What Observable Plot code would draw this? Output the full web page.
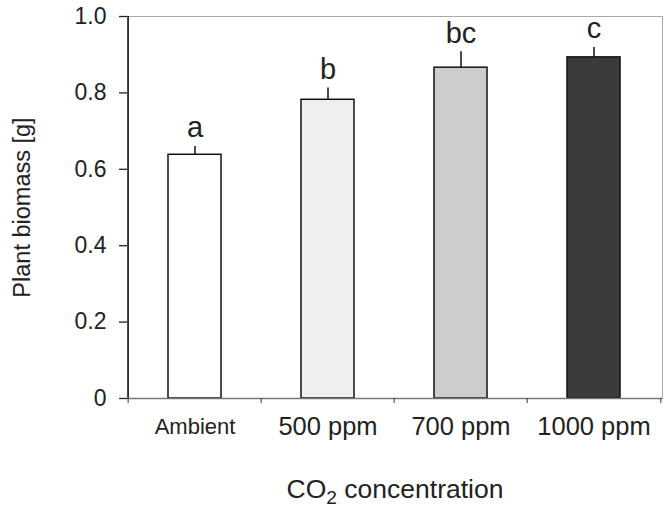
<!DOCTYPE html>
<html>
<head>
<meta charset="utf-8">
<script src="https://cdn.jsdelivr.net/npm/d3@7"></script>
<script src="https://cdn.jsdelivr.net/npm/@observablehq/plot@0.6"></script>
<style>
  body { margin: 0; background: #fff; }
  svg { font-family: "Liberation Sans", Arial, sans-serif; }
</style>
</head>
<body>
<div id="chart"></div>
<script>
const categories = ["Ambient", "500 ppm", "700 ppm", "1000 ppm"];
const means = [0.638, 0.782, 0.866, 0.893];
const errors = [0.022, 0.031, 0.042, 0.026];
const letters = ["a", "b", "bc", "c"];
const fills = ["#ffffff", "#efefef", "#cdcdcd", "#3b3b3b"];
const yTicks = [0, 0.2, 0.4, 0.6, 0.8, 1.0];
const yTickLabels = ["0", "0.2", "0.4", "0.6", "0.8", "1.0"];
const xTitle = ["CO", "2", " concentration"];
const yTitle = "Plant biomass [g]";

const data = categories.map((c, i) => ({cat: c, mean: means[i], se: errors[i], letter: letters[i], fill: fills[i]}));

const W = 668, H = 510;
const mL = 127, mR = 6, mT = 16, mB = 112;
const step = (W - mL - mR) / categories.length;
const half = step / 2;
const barW = step * 0.4;
const capW = 10;

const chart = Plot.plot({
  width: W,
  height: H,
  marginLeft: mL,
  marginRight: mR,
  marginTop: mT,
  marginBottom: mB,
  style: {fontFamily: "'Liberation Sans', Arial, sans-serif", color: "#222", background: "#fff"},
  x: {domain: categories, paddingInner: 0.6, paddingOuter: 0.3, align: 0.5},
  y: {domain: [0, 1], ticks: yTicks},
  marks: [
    Plot.frame({stroke: "#aaa", strokeWidth: 1}),
    Plot.barY(data, {x: "cat", y: "mean", fill: d => d.fill, stroke: "#111", strokeWidth: 1.5}),
    Plot.ruleX(data, {x: "cat", y1: "mean", y2: d => d.mean + d.se, stroke: "#111", strokeWidth: 1.5}),
    Plot.ruleY(data, {x: "cat", y: d => d.mean + d.se, stroke: "#111", strokeWidth: 1.5,
      insetLeft: (barW - capW) / 2, insetRight: (barW - capW) / 2}),
    Plot.text(data, {x: "cat", y: d => d.mean + d.se, text: "letter", dy: -9, lineAnchor: "bottom", fontSize: 29, fill: "#222"}),
    Plot.axisY({ticks: yTicks, tickFormat: (d, i) => yTickLabels[i], tickSize: 8, tickPadding: 13, fontSize: 23, strokeWidth: 1.3,
      label: null}),
    Plot.text([yTitle], {frameAnchor: "left", textAnchor: "middle", dx: -105, rotate: -90, fontSize: 23.5, fill: "#222"}),
    Plot.ruleX([categories[0]], {x: d => d, dx: -half, stroke: "#111", strokeWidth: 1.5}),
    Plot.ruleY([0], {stroke: "#777", strokeWidth: 1.5}),
    Plot.axisX({tickSize: 5, text: null, dx: -half, stroke: "#333", label: null}),
    Plot.axisX({ticks: [categories[categories.length - 1]], tickSize: 5, text: null, dx: half, stroke: "#333", label: null}),
    Plot.text(data, {x: "cat", text: "cat", frameAnchor: "bottom", dy: 28, lineAnchor: "middle",
      fontSize: d => d.cat === "Ambient" ? 22 : 25.5, fill: "#222"}),
    Plot.text([xTitle.join("")], {frameAnchor: "bottom", dy: 91, lineAnchor: "middle", fontSize: 26.5, fill: "#222",
      render(index, scales, values, dimensions, context, next) {
        const g = next(index, scales, values, dimensions, context);
        d3.select(g).selectAll("text").each(function() {
          const t = d3.select(this);
          t.text(null);
          t.append("tspan").text(xTitle[0]);
          t.append("tspan").attr("dy", "0.32em").attr("font-size", "0.72em").text(xTitle[1]);
          t.append("tspan").attr("dy", "-0.23em").text(xTitle[2]);
        });
        return g;
      }})
  ]
});

document.getElementById("chart").appendChild(chart);
</script>
</body>
</html>
